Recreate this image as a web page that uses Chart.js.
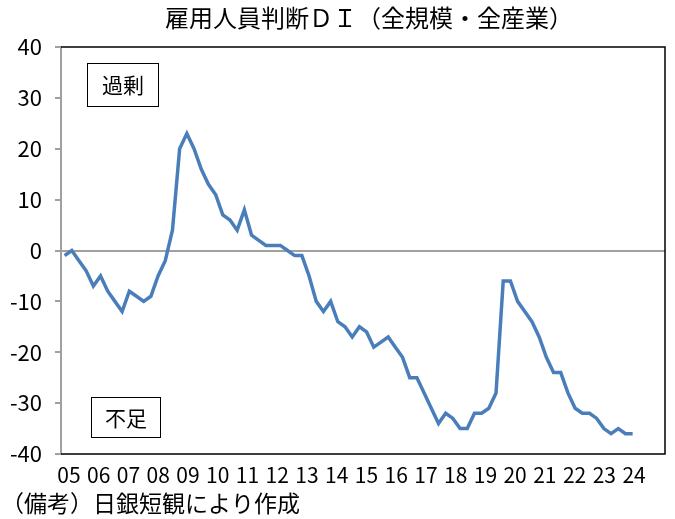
<!DOCTYPE html>
<html lang="ja">
<head>
<meta charset="utf-8">
<script src="https://cdn.jsdelivr.net/npm/chart.js@4/dist/chart.umd.min.js"></script>
<style>
  html, body { margin: 0; padding: 0; background: #fff; }
</style>
</head>
<body>
<canvas id="grafica" width="675" height="519"></canvas>
<script>
const $grafica = document.querySelector("#grafica");

const titulo = "雇用人員判断ＤＩ（全規模・全産業）";
const nota = "（備考）日銀短観により作成";

// etiquetas del eje (una por año)
const anios = ["05", "06", "07", "08", "09", "10", "11", "12", "13", "14",
               "15", "16", "17", "18", "19", "20", "21", "22", "23", "24"];
// categorías trimestrales: 2005Q1 .. 2025Q4 (el eje llega hasta 2025)
const aniosEje = anios.concat(["25"]);
const trimestres = [];
aniosEje.forEach(a => ["Q1", "Q2", "Q3", "Q4"].forEach(q => trimestres.push(a + q)));

// DI trimestral 2005Q1 .. 2024Q4
const valores = [
  -1, 0, -2, -4, -7, -5, -8, -10, -12, -8, -9, -10, -9, -5, -2, 4,
  20, 23, 20, 16, 13, 11, 7, 6, 4, 8, 3, 2, 1, 1, 1, 0,
  -1, -1, -5, -10, -12, -10, -14, -15, -17, -15, -16, -19, -18, -17, -19, -21,
  -25, -25, -28, -31, -34, -32, -33, -35, -35, -32, -32, -31, -28, -6, -6, -10,
  -12, -14, -17, -21, -24, -24, -28, -31, -32, -32, -33, -35, -36, -35, -36, -36
];

const ticksY = [-40, -30, -20, -10, 0, 10, 20, 30, 40];

const fuente = "'Noto Sans CJK JP', 'Noto Sans', sans-serif";

function caja(ctx, texto, x, y, w, h) {
  ctx.save();
  ctx.fillStyle = "#fff";
  ctx.fillRect(x, y, w, h);
  ctx.strokeStyle = "#000";
  ctx.lineWidth = 1;
  ctx.strokeRect(x + 0.5, y + 0.5, w, h);
  ctx.fillStyle = "#000";
  ctx.font = "21px " + fuente;
  ctx.textAlign = "center";
  ctx.textBaseline = "middle";
  ctx.fillText(texto, x + w / 2 + 0.5, y + h / 2 + 1);
  ctx.restore();
}

const marco = {
  id: "marco",
  beforeDatasetsDraw(chart) {
    const { ctx, chartArea: a } = chart;
    ctx.save();
    ctx.strokeStyle = "#000";
    ctx.lineWidth = 1.5;
    ctx.beginPath();
    ctx.moveTo(a.left, a.top);
    ctx.lineTo(a.right, a.top);
    ctx.lineTo(a.right, a.bottom);
    ctx.lineTo(a.left, a.bottom);
    ctx.stroke();
    ctx.restore();
  },
  afterDraw(chart) {
    const ctx = chart.ctx;
    caja(ctx, "過剰", 87, 63, 71, 43);
    caja(ctx, "不足", 91, 397, 69, 40);
    ctx.save();
    ctx.fillStyle = "#000";
    ctx.textBaseline = "middle";
    ctx.font = "24px " + fuente;
    ctx.textAlign = "center";
    ctx.fillText(titulo, 369, 18);
    ctx.font = "23px " + fuente;
    ctx.textAlign = "left";
    ctx.fillText(nota, 1, 503);
    ctx.restore();
  }
};

new Chart($grafica, {
  type: "line",
  data: {
    labels: trimestres,
    datasets: [{
      data: valores,
      borderColor: "#4a7ebb",
      borderWidth: 3.5,
      pointRadius: 0,
      tension: 0,
      fill: false
    }]
  },
  options: {
    responsive: false,
    animation: false,
    layout: { padding: { top: 47, right: 10, bottom: 35, left: 0 } },
    plugins: {
      legend: { display: false },
      tooltip: { enabled: false },
      title: { display: false }
    },
    scales: {
      x: {
        type: "category",
        display: false,
        offset: true
      },
      x2: {
        type: "linear",
        position: "bottom",
        min: -0.27,
        max: 20.04,
        afterBuildTicks(axis) {
          axis.ticks = anios.map((a, i) => ({ value: i }));
        },
        afterFit(scale) { scale.height = 30; },
        grid: { display: false, drawTicks: false },
        border: { display: false },
        ticks: {
          autoSkip: false,
          maxRotation: 0,
          padding: 8,
          color: "#000",
          font: { family: fuente, size: 21 },
          callback: v => anios[v]
        }
      },
      y: {
        min: -40,
        max: 40,
        afterBuildTicks(axis) {
          axis.ticks = ticksY.map(v => ({ value: v }));
        },
        afterFit(scale) { scale.width = 61; },
        border: { color: "#a0a0a0", width: 2 },
        grid: {
          color: c => (c.tick && c.tick.value === 0) ? "#a0a0a0" : "rgba(0,0,0,0)",
          lineWidth: 2,
          tickColor: "#a0a0a0",
          tickLength: 6
        },
        ticks: {
          padding: 13,
          color: "#000",
          font: { family: fuente, size: 22 }
        }
      }
    }
  },
  plugins: [marco]
});
</script>
</body>
</html>
